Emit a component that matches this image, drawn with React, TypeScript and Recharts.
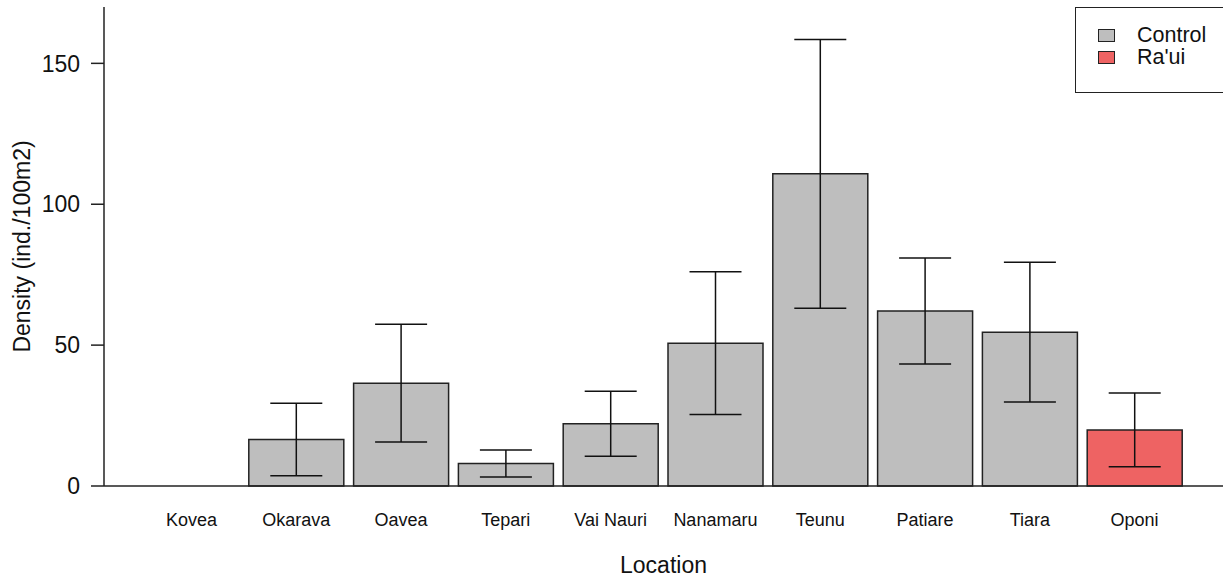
import React from "react";
import { BarChart, Bar, XAxis, YAxis, ErrorBar, Cell, Label } from "recharts";

const locations = ["Kovea", "Okarava", "Oavea", "Tepari", "Vai Nauri", "Nanamaru", "Teunu", "Patiare", "Tiara", "Oponi"];
const density = [0, 16.5, 36.5, 8.0, 22.1, 50.7, 110.8, 62.1, 54.6, 19.9];
const stdErr = [null, 12.9, 20.9, 4.8, 11.5, 25.3, 47.7, 18.8, 24.8, 13.1];
const groups = ["Control", "Control", "Control", "Control", "Control", "Control", "Control", "Control", "Control", "Ra'ui"];
const yTicks = [0, 50, 100, 150];

const GROUP_COLORS: Record<string, string> = {
  Control: "#bebebe",
  "Ra'ui": "#ee6363",
};
const FONT = '"Liberation Sans", Arial, Helvetica, sans-serif';
const INK = "#222";

const data = locations.map((loc, i) => ({
  location: loc,
  density: density[i],
  se: stdErr[i],
  group: groups[i],
}));

function XTick(props: any) {
  const { x, y, payload } = props;
  return (
    <text x={x} y={y} dy={34} textAnchor="middle" dominantBaseline="central" fontSize={18} fontFamily={FONT} fill="#111">
      {payload.value}
    </text>
  );
}

// legend drawn as an overlay so it doesn't push the plot down
function LegendBox() {
  return (
    <div
      style={{
        position: "absolute",
        top: 7,
        left: 1075,
        border: `1.5px solid ${INK}`,
        borderRight: "none",
        width: 148,
        height: 86,
        boxSizing: "border-box",
        background: "#fff",
        fontFamily: FONT,
        fontSize: 21.5,
        color: "#111",
        paddingTop: 16,
        paddingLeft: 22,
      }}
    >
      {Object.keys(GROUP_COLORS).map((g) => (
        <div key={g} style={{ display: "flex", alignItems: "center", height: 22, lineHeight: "22px" }}>
          <span
            style={{
              display: "inline-block",
              width: 17,
              height: 13,
              background: GROUP_COLORS[g],
              border: `1.2px solid ${INK}`,
              boxSizing: "border-box",
              marginRight: 22,
            }}
          />
          <span>{g}</span>
        </div>
      ))}
    </div>
  );
}

export default function App() {
  return (
    <div style={{ position: "absolute", left: 0, top: 0, width: 1223, height: 577, background: "#fff", overflow: "hidden" }}>
      <BarChart width={1223} height={577} data={data} margin={{ top: 7, right: 0, bottom: 0, left: 0 }}>
        <XAxis
          dataKey="location"
          height={91}
          tick={<XTick />}
          tickLine={false}
          tickSize={0}
          tickMargin={0}
          interval={0}
          padding={{ left: 35, right: 36 }}
          axisLine={{ stroke: INK, strokeWidth: 1.5 }}
        >
          <Label value="Location" position="insideBottom" offset={4} style={{ fontSize: 23, fontFamily: FONT, fill: "#111" }} />
        </XAxis>
        <YAxis
          width={104}
          domain={[0, 170]}
          ticks={yTicks}
          interval={0}
          tickSize={13}
          tickMargin={11}
          tick={{ fontSize: 23, fontFamily: FONT, fill: "#111" }}
          tickLine={{ stroke: INK, strokeWidth: 1.5 }}
          axisLine={{ stroke: INK, strokeWidth: 1.5 }}
        >
          <Label
            content={(p: any) => {
              const vb = p.viewBox;
              const cx = vb.x + 22;
              const cy = vb.y + vb.height / 2;
              return (
                <text
                  x={cx}
                  y={cy}
                  transform={`rotate(-90 ${cx} ${cy})`}
                  textAnchor="middle"
                  dominantBaseline="central"
                  fontSize={23}
                  fontFamily={FONT}
                  fill="#111"
                >
                  Density (ind./100m2)
                </text>
              );
            }}
          />
        </YAxis>
        <Bar dataKey="density" barSize={95} stroke={INK} strokeWidth={1.5} isAnimationActive={false}>
          {data.map((d) => (
            <Cell key={d.location} fill={GROUP_COLORS[d.group]} />
          ))}
          <ErrorBar dataKey="se" width={26} stroke="#111" strokeWidth={1.5} direction="y" isAnimationActive={false} />
        </Bar>
      </BarChart>
      <LegendBox />
    </div>
  );
}
